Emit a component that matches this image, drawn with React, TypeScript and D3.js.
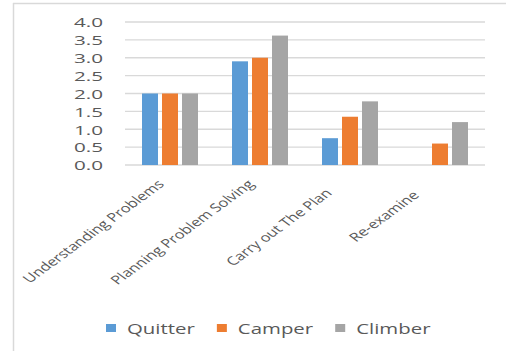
import React, { useMemo } from "react";
import * as d3 from "d3";

const WIDTH = 506;
const HEIGHT = 351;
const MARGIN = { top: 22, right: 21, bottom: 186, left: 125 };

// data
const categories = [
  "Understanding Problems",
  "Planning Problem Solving",
  "Carry out The Plan\u00a0\u00a0\u00a0\u00a0",
  "Re-examine\u00a0\u00a0\u00a0\u00a0\u00a0",
];
const seriesNames = ["Quitter", "Camper", "Climber"];
const quitter = [2.0, 2.9, 0.75, 0];
const camper = [2.0, 3.0, 1.35, 0.6];
const climber = [2.0, 3.62, 1.78, 1.2];
const yTicks = [0, 0.5, 1.0, 1.5, 2.0, 2.5, 3.0, 3.5, 4.0];

const COLORS = ["#5b9bd5", "#ed7d31", "#a5a5a5"];
const TEXT = "#595959";
const GRID = "#d9d9d9";
const FONT = "'Open Sans', 'DejaVu Sans', sans-serif";

// the picture is stretched sideways, so text is too
const STRETCH = 1.37;

const measure = (txt: string, size: number) => {
  const c = document.createElement("canvas").getContext("2d");
  if (!c) return txt.length * size * 0.5;
  c.font = `${size}px 'Open Sans'`;
  return c.measureText(txt).width;
};

export default function App() {
  const boundsWidth = WIDTH - MARGIN.left - MARGIN.right;
  const boundsHeight = HEIGHT - MARGIN.top - MARGIN.bottom;

  const values = [quitter, camper, climber];

  const xScale = useMemo(
    () => d3.scaleBand().domain(categories).range([0, boundsWidth]).padding(0),
    [boundsWidth]
  );
  const inner = useMemo(
    () => d3.scaleBand().domain(seriesNames).range([0, 56]).paddingInner(0.2),
    []
  );
  const yScale = useMemo(
    () => d3.scaleLinear().domain([0, 4]).range([boundsHeight, 0]),
    [boundsHeight]
  );
  const fmt = d3.format(".1f");

  // gridlines + y labels
  const grid = yTicks.map((t) => (
    <g key={t}>
      <line
        x1={0}
        x2={boundsWidth}
        y1={yScale(t)}
        y2={yScale(t)}
        stroke={GRID}
        strokeWidth={1.3}
      />
      <text
        transform={`translate(-22,${yScale(t) + 5.3}) scale(1.72,1)`}
        textAnchor="end"
        fontSize={12}
        fontFamily={FONT}
        fill={TEXT}
      >
        {fmt(t)}
      </text>
    </g>
  ));

  // bars
  const bars = categories.map((cat, ci) => {
    const x0 = (xScale(cat) ?? 0) + xScale.bandwidth() / 2 - 28;
    return (
      <g key={cat}>
        {seriesNames.map((s, si) => {
          const v = values[si][ci];
          if (!v) return null;
          return (
            <rect
              key={s}
              x={x0 + (inner(s) ?? 0)}
              y={yScale(v)}
              width={inner.bandwidth()}
              height={yScale(0) - yScale(v)}
              fill={COLORS[si]}
            />
          );
        })}
      </g>
    );
  });

  // rotated category labels
  const labels = categories.map((cat) => {
    const cx = (xScale(cat) ?? 0) + xScale.bandwidth() / 2 - 5;
    return (
      <text
        key={cat}
        transform={`translate(${cx},${boundsHeight + 20}) scale(${STRETCH},1) rotate(-45)`}
        textAnchor="end"
        fontSize={12}
        fontFamily={FONT}
        fill={TEXT}
      >
        {cat}
      </text>
    );
  });

  // legend
  let lx = 106;
  const legend = seriesNames.map((s, i) => {
    const tw = measure(s, 15) * 1.36;
    const item = (
      <g key={s} transform={`translate(${lx},324)`}>
        <rect x={0} y={0} width={10} height={8} fill={COLORS[i]} />
        <text
          transform={`translate(21,10) scale(1.36,1)`}
          fontSize={15}
          fontFamily={FONT}
          fill={TEXT}
        >
          {s}
        </text>
      </g>
    );
    lx += 21 + tw + 22;
    return item;
  });

  return (
    <div style={{ position: "absolute", left: 0, top: 0 }}>
      <svg width={WIDTH} height={HEIGHT} style={{ display: "block", background: "#fff" }}>
        <line x1={13.5} x2={13.5} y1={3} y2={HEIGHT} stroke={GRID} strokeWidth={1.5} />
        <line x1={13} x2={WIDTH} y1={3.5} y2={3.5} stroke={GRID} strokeWidth={1.5} />
        <g transform={`translate(${MARGIN.left},${MARGIN.top})`}>
          {grid}
          {bars}
          {labels}
        </g>
        {legend}
      </svg>
    </div>
  );
}
